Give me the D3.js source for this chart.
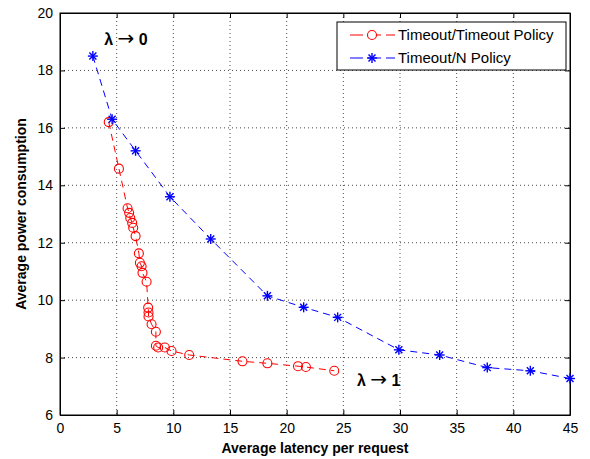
<!DOCTYPE html>
<html><head><meta charset="utf-8">
<script src="https://cdn.jsdelivr.net/npm/d3@7/dist/d3.min.js"></script>
<style>body{margin:0;background:#fff}svg{display:block}text{font-family:Arial,"Liberation Sans",sans-serif}</style>
</head><body><svg id="c" width="590" height="459"></svg>
<script>
const xTicks = [0,5,10,15,20,25,30,35,40,45];
const yTicks = [6,8,10,12,14,16,18,20];
const seriesNames = ["Timeout/Timeout Policy","Timeout/N Policy"];
const redX = [4.3,5.2,5.96,6.1,6.2,6.37,6.46,6.67,6.96,7.05,7.2,7.28,7.64,7.78,7.81,7.81,8.08,8.46,8.46,8.66,9.25,9.84,11.4,16.1,18.3,21.0,21.7,24.2];
const redY = [16.2,14.58,13.2,13.04,12.86,12.69,12.52,12.23,11.63,11.3,11.18,10.95,10.64,9.74,9.57,9.43,9.16,8.9,8.41,8.35,8.35,8.23,8.09,7.87,7.8,7.7,7.67,7.54];
const blueX = [2.9,4.6,6.67,9.7,13.3,18.3,21.5,24.5,29.9,33.5,37.7,41.5,45];
const blueY = [18.5,16.3,15.2,13.6,12.13,10.15,9.75,9.4,8.27,8.09,7.65,7.54,7.27];
const annotations = [{x:3.9,y:18.9,a:"λ ",b:"→",c:" 0"},{x:26.2,y:7.0,a:"λ ",b:"→",c:" 1"}];

const svg = d3.select("#c");
const L=60,R=570,T=13,B=415;
const x = d3.scaleLinear().domain([0,45]).range([L,R]);
const y = d3.scaleLinear().domain([6,20]).range([B,T]);

// grid
const g = svg.append("g");
g.selectAll("line.gx").data(xTicks.slice(1,-1)).join("line")
 .attr("x1",d=>x(d)).attr("x2",d=>x(d)).attr("y1",T).attr("y2",B)
 .attr("stroke","#000").attr("stroke-width",1).attr("stroke-dasharray","1,3").attr("opacity",0.7);
g.selectAll("line.gy").data(yTicks.slice(1,-1)).join("line")
 .attr("y1",d=>y(d)).attr("y2",d=>y(d)).attr("x1",L).attr("x2",R)
 .attr("stroke","#000").attr("stroke-width",1).attr("stroke-dasharray","1,3").attr("opacity",0.7);

// axes
svg.append("g").attr("transform",`translate(0,${B})`)
 .call(d3.axisBottom(x).tickValues(xTicks).tickSizeInner(-5).tickSizeOuter(0).tickPadding(8));
svg.append("g").attr("transform",`translate(${L},0)`)
 .call(d3.axisLeft(y).tickValues(yTicks).tickSizeInner(-5).tickSizeOuter(0).tickPadding(7));
svg.append("g").attr("transform",`translate(0,${T})`)
 .call(d3.axisTop(x).tickValues(xTicks).tickSizeInner(-5).tickSizeOuter(0).tickFormat(""));
svg.append("g").attr("transform",`translate(${R},0)`)
 .call(d3.axisRight(y).tickValues(yTicks).tickSizeInner(-5).tickSizeOuter(0).tickFormat(""));
svg.selectAll(".domain").attr("stroke","#000");
svg.selectAll(".tick line").attr("stroke","#000");
svg.selectAll(".tick text").attr("font-size",14).attr("fill","#000").attr("font-family","'Liberation Sans Narrow', Arial, 'Liberation Sans', sans-serif");
svg.append("rect").attr("x",L).attr("y",T).attr("width",R-L).attr("height",B-T).attr("fill","none").attr("stroke","#000");

// lines
const red = redX.map((v,i)=>[v,redY[i]]);
const blue = blueX.map((v,i)=>[v,blueY[i]]);
const line = d3.line().x(d=>x(d[0])).y(d=>y(d[1]));
svg.append("path").datum(blue).attr("d",line).attr("fill","none").attr("stroke","#0000ff").attr("stroke-dasharray","7,5").attr("stroke-width",1);
svg.append("path").datum(red).attr("d",line).attr("fill","none").attr("stroke","#ff0000").attr("stroke-dasharray","7,5").attr("stroke-width",1);

function star(sel,cx,cy,s,col){
  const gg = sel.append("g").attr("stroke",col).attr("stroke-width",1.4);
  gg.append("line").attr("x1",cx-s).attr("x2",cx+s).attr("y1",cy).attr("y2",cy);
  gg.append("line").attr("x1",cx).attr("x2",cx).attr("y1",cy-s).attr("y2",cy+s);
  const d=s*0.7;
  gg.append("line").attr("x1",cx-d).attr("x2",cx+d).attr("y1",cy-d).attr("y2",cy+d);
  gg.append("line").attr("x1",cx-d).attr("x2",cx+d).attr("y1",cy+d).attr("y2",cy-d);
}
svg.append("g").selectAll("circle").data(red).join("circle")
 .attr("cx",d=>x(d[0])).attr("cy",d=>y(d[1])).attr("r",4.5)
 .attr("fill","none").attr("stroke","#ff0000").attr("stroke-width",1.1);
const sg = svg.append("g");
blue.forEach(d=>star(sg,x(d[0]),y(d[1]),5,"#0000ff"));

// annotations
const at = svg.selectAll("text.ann").data(annotations).join("text")
 .attr("x",d=>x(d.x)).attr("y",d=>y(d.y)).attr("font-size",16).attr("font-weight","bold")
 .attr("font-family","'DejaVu Sans', sans-serif").attr("fill","#000");
at.append("tspan").text(d=>d.a);
at.append("tspan").attr("font-size",20).attr("font-weight","normal").attr("font-family","'DejaVu Sans', sans-serif").text(d=>d.b);
at.append("tspan").text(d=>d.c);

// axis labels
svg.append("text").attr("x",(L+R)/2).attr("y",453).attr("text-anchor","middle")
 .attr("font-size",14).attr("font-weight","bold").text("Average latency per request");
svg.append("text").attr("transform",`translate(26,${(T+B)/2}) rotate(-90)`).attr("text-anchor","middle")
 .attr("font-size",14).attr("font-weight","bold").text("Average power consumption");

// legend
const lg = svg.append("g");
lg.append("rect").attr("x",337).attr("y",22).attr("width",229).attr("height",48).attr("fill","#fff").attr("stroke","#000");
const ly=[35,58];
seriesNames.forEach((n,i)=>{
  const col=i===0?"#ff0000":"#0000ff";
  lg.append("line").attr("x1",350).attr("x2",395).attr("y1",ly[i]).attr("y2",ly[i]).attr("stroke",col).attr("stroke-dasharray","13,5");
  if(i===0) lg.append("circle").attr("cx",372).attr("cy",ly[i]).attr("r",4.5).attr("fill","#fff").attr("stroke",col).attr("stroke-width",1.1);
  else star(lg,372,ly[i],5,col);
  lg.append("text").attr("x",398).attr("y",ly[i]+5).attr("font-size",15).attr("fill","#000").text(n);
});
</script></body></html>
